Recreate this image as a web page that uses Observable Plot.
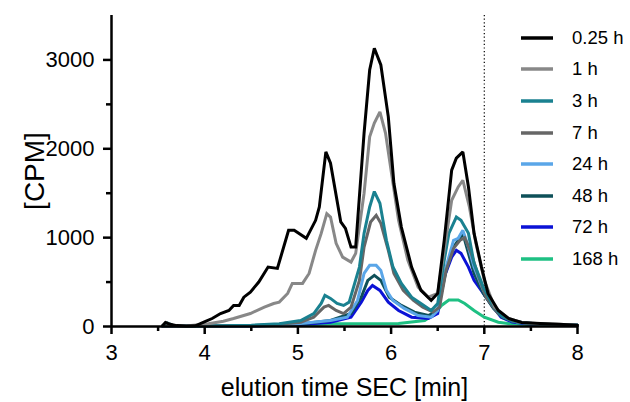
<!DOCTYPE html>
<html>
<head>
<meta charset="utf-8">
<script src="https://cdn.jsdelivr.net/npm/d3@7"></script>
<script src="https://cdn.jsdelivr.net/npm/@observablehq/plot@0.6"></script>
<style>
  html, body { margin: 0; padding: 0; background: #fff; }
  #wrap { position: relative; width: 630px; height: 402px; font-family: "Liberation Sans", Arial, sans-serif; }
  #legend { position: absolute; left: 521px; top: 22px; }
  .item { display: flex; align-items: center; height: 31.6px; }
  .item svg { display: block; }
  .item span { margin-left: 19px; font-size: 18.5px; color: #000; }
</style>
</head>
<body>
<div id="wrap"></div>
<script>
// ---- data ----
const seriesNames = ["0.25 h", "1 h", "3 h", "7 h", "24 h", "48 h", "72 h", "168 h"];
const seriesColors = ["#000000", "#888888", "#1a8190", "#666666", "#5aa6e8", "#0e5059", "#0b12d6", "#1ec083"];

const t_025 = [3.55,3.58,3.63,3.7,3.8,3.9,3.99,4.08,4.17,4.26,4.31,4.37,4.42,4.49,4.58,4.68,4.78,4.9,4.96,5.09,5.19,5.23,5.30,5.35,5.46,5.51,5.57,5.62,5.71,5.77,5.82,5.89,5.97,6.03,6.11,6.22,6.32,6.43,6.5,6.57,6.65,6.7,6.77,6.83,6.89,6.97,7.04,7.15,7.26,7.4,7.6,7.8,8.0];
const v_025 = [10,45,25,10,5,8,48,90,146,180,237,237,330,387,500,669,654,1082,1082,992,1195,1345,1965,1838,1176,1105,894,894,2176,2886,3131,2943,2360,1612,1119,669,406,293,372,970,1759,1894,1965,1571,1048,669,372,180,90,45,35,25,15];

const t_1 = [3.55,3.58,3.65,3.8,4.04,4.2,4.31,4.49,4.64,4.74,4.8,4.89,4.94,5.05,5.12,5.19,5.25,5.31,5.35,5.41,5.48,5.57,5.62,5.71,5.77,5.82,5.88,5.94,6.01,6.08,6.18,6.29,6.40,6.50,6.57,6.65,6.72,6.77,6.84,6.91,7.0,7.11,7.26,7.4,7.6,7.8,8.0];
const v_1 = [10,45,15,5,30,60,90,146,218,259,274,372,485,485,597,857,1048,1270,1232,936,781,725,823,1500,2135,2289,2416,2176,1684,1195,744,443,330,372,857,1420,1571,1646,1345,936,519,218,90,45,30,25,15];

const t_3 = [3.55,3.6,3.65,3.8,4.0,4.5,4.8,5.03,5.17,5.25,5.29,5.35,5.42,5.49,5.55,5.66,5.71,5.77,5.82,5.88,5.95,6.02,6.11,6.22,6.32,6.43,6.5,6.57,6.62,6.7,6.75,6.83,6.89,6.99,7.08,7.18,7.3,7.5,7.8,8.0];
const v_3 = [10,40,15,5,5,15,30,68,146,259,350,316,259,237,274,669,1048,1345,1519,1387,970,669,485,330,259,180,259,744,1048,1232,1195,1048,710,443,259,124,60,30,20,15];

const t_7 = [3.55,3.8,4.0,4.5,4.8,5.03,5.17,5.28,5.33,5.41,5.49,5.57,5.66,5.71,5.78,5.84,5.89,5.97,6.03,6.13,6.24,6.34,6.45,6.52,6.59,6.67,6.74,6.79,6.86,6.94,7.02,7.15,7.3,7.5,7.8,8.0];
const v_7 = [5,3,5,10,25,48,105,218,237,180,146,218,519,894,1176,1251,1161,857,597,406,293,218,162,218,631,879,970,1000,823,556,330,146,60,30,20,15];

const t_24 = [3.55,4.0,4.5,5.0,5.35,5.53,5.64,5.71,5.77,5.84,5.89,5.95,6.02,6.14,6.29,6.43,6.5,6.59,6.67,6.72,6.77,6.83,6.89,6.99,7.1,7.2,7.35,7.6,8.0];
const v_24 = [3,3,8,30,68,105,293,597,688,688,631,406,293,203,124,105,180,669,970,992,1082,894,669,406,218,110,50,25,15];

const t_48 = [3.55,4.0,4.5,5.0,5.35,5.57,5.68,5.75,5.82,5.89,5.98,6.11,6.25,6.4,6.5,6.59,6.67,6.72,6.77,6.83,6.89,6.99,7.1,7.2,7.35,7.6,8.0];
const v_48 = [3,3,8,25,68,146,330,519,575,519,330,237,162,124,180,631,894,970,1048,823,597,372,203,100,50,25,15];

const t_72 = [3.55,4.0,4.5,5.0,5.35,5.57,5.68,5.75,5.8,5.88,5.97,6.08,6.22,6.4,6.5,6.57,6.65,6.7,6.75,6.83,6.89,6.99,7.08,7.18,7.3,7.5,8.0];
const v_72 = [3,3,5,20,48,105,274,406,462,406,274,180,105,90,146,556,781,857,823,669,519,372,237,105,50,25,15];

const t_168 = [3.55,4.0,5.0,5.35,6.08,6.36,6.47,6.54,6.62,6.72,6.79,6.89,7.0,7.15,7.29,7.5,8.0];
const v_168 = [2,3,15,30,35,68,146,237,299,299,259,180,105,48,30,20,15];

const times = [t_025, t_1, t_3, t_7, t_24, t_48, t_72, t_168];
const values = [v_025, v_1, v_3, v_7, v_24, v_48, v_72, v_168];

const xMajor = [3, 4, 5, 6, 7, 8];
const xMinor = [3.5, 4.5, 5.5, 6.5, 7.5];
const yMajor = [0, 1000, 2000, 3000];
const yMinor = [500, 1500, 2500];
const markerX = [7];

// ---- build table ----
const rows = [];
seriesNames.forEach((name, i) => {
  times[i].forEach((t, j) => rows.push({series: name, t, v: values[i][j]}));
});

const lineMarks = seriesNames.slice().reverse().map(name =>
  Plot.line(rows.filter(r => r.series === name), {
    x: "t", y: "v", stroke: seriesColors[seriesNames.indexOf(name)],
    strokeWidth: 3, strokeLinejoin: "miter", strokeMiterlimit: 2
  })
);

const font = "Liberation Sans, Arial, sans-serif";

const chart = Plot.plot({
  width: 630,
  height: 402,
  marginLeft: 111,
  marginRight: 53,
  marginTop: 15,
  marginBottom: 76,
  style: {fontFamily: font, background: "#fff", color: "#000", overflow: "visible"},
  x: {domain: [3, 8]},
  y: {domain: [0, 3500]},
  marks: [
    Plot.ruleX(markerX, {stroke: "#000", strokeWidth: 1.2, strokeDasharray: "1.2,2.4"}),
    ...lineMarks,
    Plot.ruleY([0], {stroke: "#000", strokeWidth: 2.5}),
    Plot.ruleX([3], {stroke: "#000", strokeWidth: 2.5}),
    Plot.axisX({ticks: xMajor, tickSize: 8, strokeWidth: 2.5, fontSize: 22, tickPadding: 10, label: null, tickFormat: d => String(d)}),
    Plot.axisX({ticks: xMinor, tickSize: 5, strokeWidth: 2.5, tickFormat: () => "", label: null}),
    Plot.axisY({ticks: yMajor, tickSize: 8, strokeWidth: 2.5, fontSize: 22, tickPadding: 9, label: null, tickFormat: d => String(d)}),
    Plot.axisY({ticks: yMinor, tickSize: 5, strokeWidth: 2.5, tickFormat: () => "", label: null}),
    Plot.text(["elution time SEC [min]"], {frameAnchor: "bottom", lineAnchor: "middle", textAnchor: "middle", dy: 61, fontSize: 25, fill: "#000"}),
    Plot.text(["[CPM]"], {frameAnchor: "left", textAnchor: "middle", lineAnchor: "middle", dx: -76, rotate: -90, fontSize: 28, fill: "#000"})
  ]
});

const wrap = document.getElementById("wrap");
wrap.appendChild(chart);

// legend
const legend = document.createElement("div");
legend.id = "legend";
seriesNames.forEach((name, i) => {
  const item = document.createElement("div");
  item.className = "item";
  item.innerHTML = `<svg width="32" height="6"><line x1="0" x2="32" y1="3" y2="3" stroke="${seriesColors[i]}" stroke-width="3.5"/></svg><span>${name}</span>`;
  legend.appendChild(item);
});
wrap.appendChild(legend);
</script>
</body>
</html>
